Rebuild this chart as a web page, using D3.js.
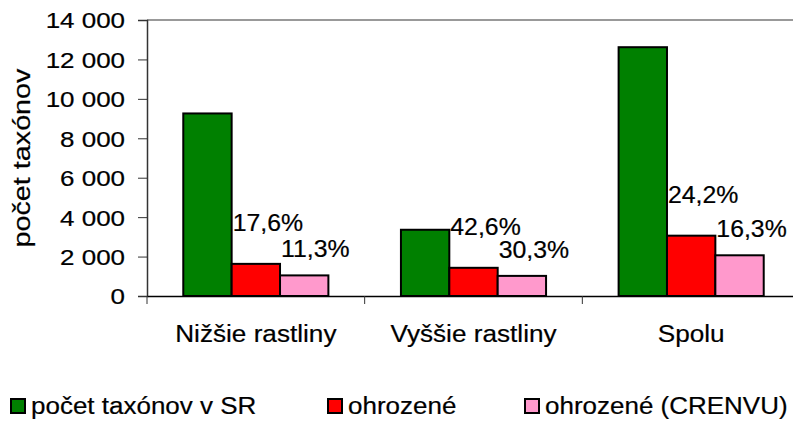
<!DOCTYPE html>
<html>
<head>
<meta charset="utf-8">
<script src="https://cdn.jsdelivr.net/npm/d3@7"></script>
<style>
  body { margin: 0; background: #fff; }
  svg { display: block; font-family: "Liberation Sans", Arial, sans-serif; }
  svg text { fill: #000; stroke: #000; stroke-width: 0.2px; }
</style>
</head>
<body>
<script>
// data
var categories = ["Nižšie rastliny", "Vyššie rastliny", "Spolu"];
var seriesNames = ["počet taxónov v SR", "ohrozené", "ohrozené (CRENVU)"];
var total = [9260, 3360, 12620];
var threatened = [1630, 1430, 3060];
var crenvu = [1045, 1020, 2065];
var threatenedPct = ["17,6%", "42,6%", "24,2%"];
var crenvuPct = ["11,3%", "30,3%", "16,3%"];
var yTicks = [0, 2000, 4000, 6000, 8000, 10000, 12000, 14000];

var colors = ["#008000", "#ff0000", "#ff99cc"];

var width = 793, height = 421;
var margin = {top: 20, left: 147, bottom: 125};
var plotRight = 800; // plot runs past the right edge in the original

var svg = d3.select("body").append("svg")
    .attr("width", width)
    .attr("height", height);

// the original text is a bit wider than plain Arial, so stretch it horizontally
function put(sel, fx, fy, sx) {
  sel.attr("transform", function(d, i) {
    return "translate(" + fx(d, i) + "," + fy(d, i) + ") scale(" + sx + ",1)";
  });
}

var locale = d3.formatLocale({decimal: ",", thousands: " ", grouping: [3], currency: ["", ""]});
var fmt = locale.format(",d");

var y = d3.scaleLinear()
    .domain([0, 14000])
    .range([height - margin.bottom, margin.top]);

var x0 = d3.scaleBand()
    .domain(categories)
    .range([margin.left, plotRight])
    .padding(0);

var x1 = d3.scaleBand()
    .domain(d3.range(3))
    .range([0, x0.bandwidth()])
    .paddingInner(0)
    .paddingOuter(0.75);

var rows = categories.map(function(c, i) {
  return {cat: c, values: [total[i], threatened[i], crenvu[i]], pct: [null, threatenedPct[i], crenvuPct[i]]};
});

// plot area top border
svg.append("line")
    .attr("x1", margin.left).attr("x2", plotRight)
    .attr("y1", y(14000)).attr("y2", y(14000))
    .attr("stroke", "#999").attr("stroke-width", 2);

// y axis
var yAxis = svg.append("g")
    .attr("transform", "translate(" + margin.left + ",0)")
    .call(d3.axisLeft(y).tickValues(yTicks).tickFormat(fmt).tickSizeOuter(0).tickSize(9));
yAxis.select(".domain").attr("stroke", "#333").attr("stroke-width", 1.5);
yAxis.selectAll(".tick line").attr("stroke", "#333");
yAxis.selectAll(".tick text")
    .attr("x", 0)
    .attr("dy", "0.36em")
    .style("font-size", "22px")
    .attr("transform", "translate(-22,0) scale(1.18,1)");

// x axis
var xAxis = svg.append("g")
    .attr("transform", "translate(0," + y(0) + ")")
    .call(d3.axisBottom(x0).tickSize(0).tickFormat(""));
xAxis.select(".domain").attr("stroke", "#000").attr("stroke-width", 1.5);

// category separators
svg.selectAll(".sep")
    .data(categories)
  .enter().append("line")
    .attr("class", "sep")
    .attr("x1", function(d) { return x0(d); })
    .attr("x2", function(d) { return x0(d); })
    .attr("y1", y(0)).attr("y2", y(0) + 8)
    .attr("stroke", "#333");

svg.selectAll(".cat")
    .data(categories)
  .enter().append("text")
    .attr("class", "cat")
    .attr("text-anchor", "middle")
    .style("font-size", "24px")
    .text(function(d) { return d; })
    .call(put, function(d) { return x0(d) + x0.bandwidth() / 2; }, function() { return 342; }, 1.09);

// bars
var g = svg.selectAll(".grp")
    .data(rows)
  .enter().append("g")
    .attr("class", "grp")
    .attr("transform", function(d) { return "translate(" + x0(d.cat) + ",0)"; });

g.selectAll("rect")
    .data(function(d) { return d.values; })
  .enter().append("rect")
    .attr("x", function(d, i) { return x1(i); })
    .attr("y", function(d) { return y(d); })
    .attr("width", x1.bandwidth())
    .attr("height", function(d) { return y(0) - y(d); })
    .attr("fill", function(d, i) { return colors[i]; })
    .attr("stroke", "#000")
    .attr("stroke-width", 2);

// percentage labels
g.selectAll(".pct")
    .data(function(d) { return d.values.map(function(v, i) { return {v: v, i: i, t: d.pct[i]}; }).filter(function(e) { return e.t; }); })
  .enter().append("text")
    .attr("class", "pct")
    .style("font-size", "23px")
    .text(function(d) { return d.t; })
    .call(put, function(d) { return x1(d.i) + 1; }, function(d) { return y(d.v) - (d.i === 1 ? 33 : 18); }, 1.08);

// y title
svg.append("text")
    .attr("transform", "translate(30," + y(7000) + ") rotate(-90) scale(1.25,1)")
    .attr("text-anchor", "middle")
    .style("font-size", "23px")
    .text("počet taxónov");

// legend
var legendX = [10, 327, 524];
var leg = svg.selectAll(".leg")
    .data(seriesNames)
  .enter().append("g")
    .attr("class", "leg")
    .attr("transform", function(d, i) { return "translate(" + legendX[i] + ",398)"; });

leg.append("rect")
    .attr("x", 1).attr("y", 1)
    .attr("width", 14).attr("height", 14)
    .attr("fill", function(d, i) { return colors[i]; })
    .attr("stroke", "#000")
    .attr("stroke-width", 2);

leg.append("text")
    .style("font-size", "23px")
    .text(function(d) { return d; })
    .call(put, function() { return 21; }, function() { return 16; }, 1.13);
</script>
</body>
</html>
